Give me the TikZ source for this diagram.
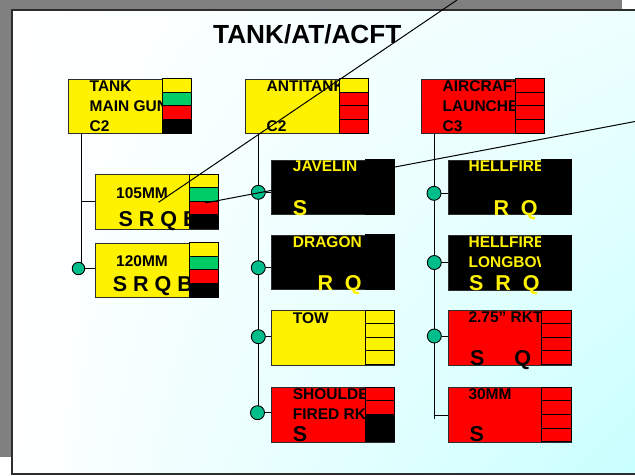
\documentclass[tikz,border=0pt]{standalone}
\usepackage{fontspec}
\setmainfont{Liberation Sans}
\usetikzlibrary{shadings}
\definecolor{stgreen}{RGB}{0,204,102}
\definecolor{dotgreen}{RGB}{0,190,140}
\definecolor{shadowgray}{RGB}{128,128,128}
\definecolor{boxline}{RGB}{45,45,45}
\definecolor{skytop}{RGB}{238,255,255}
\definecolor{skyright}{RGB}{200,255,255}
% four status cells on the right side of a box
\newcommand\statcol[5]{%
  \foreach \clr [count=\i from 0] in {#2,#3,#4,#5}
    \draw[cell, fill=\clr] ([xshift=-29.5pt, yshift=-\i*13.625pt]#1.north east) rectangle ++(29.5,13.625);
}
\begin{document}
\begin{tikzpicture}[x=1pt, y=-1pt,
    box/.style = {draw=boxline, line width=0.9pt, minimum width=123pt, minimum height=54.5pt, inner sep=0pt, anchor=north west},
    cell/.style = {draw=black, line width=0.9pt},
    lbl/.style = {font=\bfseries\fontsize{15.5}{20}\selectfont, align=left, inner sep=0pt, anchor=north west},
    srq/.style = {font=\bfseries\fontsize{21.5}{24}\selectfont, inner sep=0pt, anchor=base west},
    dot/.style = {circle, draw=black, line width=0.9pt, fill=dotgreen, minimum size=14pt, inner sep=0pt},
    wire/.style = {draw=black, line width=1pt}]
    \clip (0,0) rectangle (635,475);
    % slide
    \fill[shadowgray] (0,0) rectangle (622,457);
    \shade[upper left=white, upper right=skytop, lower left=white, lower right=skyright] (12,10) rectangle (645,474);
    \draw[boxline, line width=1.5pt] (12,10) rectangle (645,474);
    \node[font=\bfseries\fontsize{26.2}{30}\selectfont, inner sep=0pt, anchor=base west] (title) at (213,43.5) {TANK/AT/ACFT};
    % top row
    \node[box, fill=yellow] (tank) at (68,78.5) {};
    \node[box, fill=yellow] (antitank) at (245,78.5) {};
    \node[box, fill=red] (aircraft) at (421,78.5) {};
    \node[lbl] (tankT) at (89.5,80.6) {TANK\\MAIN GUN\\C2};
    \node[lbl] (antitankT) at (266.5,80.6) {ANTITANK\\~\\C2};
    \node[lbl] (aircraftT) at (442.5,80.6) {AIRCRAFT\\LAUNCHER\\C3};
    \statcol{tank}{yellow}{stgreen}{red}{black}
    \statcol{antitank}{yellow}{red}{red}{red}
    \statcol{aircraft}{red}{red}{red}{red}
    % tank main gun
    \node[box, fill=yellow] (mm105) at (95,174) {};
    \node[box, fill=yellow] (mm120) at (95,242.5) {};
    \node[lbl] (mm105T) at (116,187.2) {105MM};
    \node[lbl] (mm120T) at (116,255) {120MM};
    \node[srq] (mm105L) at (118.3,226) {S R Q B};
    \node[srq] (mm120L) at (112.7,291) {S R Q B};
    \statcol{mm105}{yellow}{stgreen}{red}{black}
    \statcol{mm120}{yellow}{stgreen}{red}{black}
    % antitank
    \node[box, fill=black] (jav) at (271,159.5) {};
    \node[box, fill=black] (drag) at (271,234.5) {};
    \node[box, fill=yellow] (tow) at (271,310) {};
    \node[box, fill=red] (sfr) at (271,387) {};
    \node[lbl, text=yellow] (javT) at (292.7,160.7) {JAVELIN};
    \node[lbl, text=yellow] (dragT) at (292.7,236) {DRAGON};
    \node[lbl] (towT) at (292.7,312.5) {TOW};
    \node[lbl] (sfrT) at (292.7,388) {SHOULDER\\FIRED RKT};
    \node[srq, text=yellow] (javL) at (292.7,215) {S};
    \node[srq, text=yellow] (dragL) at (317.3,290) {R~~Q};
    \node[srq] (sfrL) at (292.7,441.7) {S};
    \statcol{jav}{black}{black}{black}{black}
    \statcol{drag}{black}{black}{black}{black}
    \statcol{tow}{yellow}{yellow}{yellow}{yellow}
    \statcol{sfr}{red}{red}{black}{black}
    % aircraft
    \node[box, fill=black] (hell) at (447.5,159.5) {};
    \node[box, fill=black] (lbow) at (447.5,235) {};
    \node[box, fill=red] (rkt) at (447.5,310) {};
    \node[box, fill=red] (mm30) at (447.5,387.3) {};
    \node[lbl, text=yellow] (hellT) at (468.5,160.7) {HELLFIRE};
    \node[lbl, text=yellow] (lbowT) at (468.5,236.5) {HELLFIRE\\LONGBOW};
    \node[lbl] (rktT) at (468.3,311) {2.75” RKT};
    \node[lbl] (mm30T) at (468.3,388.3) {30MM};
    \node[srq, text=yellow] (hellL) at (493.3,215) {R~~Q};
    \node[srq, text=yellow] (lbowL) at (469,290.7) {S~~R~~Q};
    \node[srq] (rktL) at (470,365) {S~~~~~Q};
    \node[srq] (mm30L) at (469.3,441.7) {S};
    \statcol{hell}{black}{black}{black}{black}
    \statcol{lbow}{black}{black}{black}{black}
    \statcol{rkt}{red}{red}{red}{red}
    \statcol{mm30}{red}{red}{red}{red}
    % bars
    \coordinate (tankbar) at (81.5,268.5);
    \coordinate (atbar) at (258.3,413);
    \coordinate (airbar) at (434.3,419.3);
    \draw[wire] (tank.south -| tankbar) -- (tankbar);
    \draw[wire] (antitank.south -| atbar) -- (atbar);
    \draw[wire] (aircraft.south -| airbar) -- (airbar);
    \draw[wire] (mm105.west -| tankbar) -- (mm105.west);
    \draw[wire] (mm30.west -| airbar) -- (mm30.west);
    \node[dot, minimum size=12.5pt] (d120) at (78.5,268.5) {};
    \node[dot] (djav) at (258.3,192.3) {};
    \node[dot] (ddrag) at (258.3,267.7) {};
    \node[dot] (dtow) at (258.3,336.7) {};
    \node[dot] (dsfr) at (257.5,412.7) {};
    \node[dot] (dhell) at (434,193.3) {};
    \node[dot] (dlbow) at (434.3,262.5) {};
    \node[dot] (drkt) at (434.3,336) {};
    \draw[wire] (d120) -- (d120 -| mm120.west);
    \draw[wire] (djav) -- (djav -| jav.west);
    \draw[wire] (ddrag) -- (ddrag -| drag.west);
    \draw[wire] (dtow) -- (dtow -| tow.west);
    \draw[wire] (dsfr) -- (dsfr -| sfr.west);
    \draw[wire] (dhell) -- (dhell -| hell.west);
    \draw[wire] (dlbow) -- (dlbow -| lbow.west);
    \draw[wire] (drkt) -- (drkt -| rkt.west);
    % pointers
    \coordinate (ptrAtop) at (457,0);
    \coordinate (ptrAend) at (158.5,202.3);
    \coordinate (ptrBend) at (205,203);
    \coordinate (ptrBtop) at (635,121.5);
    \draw[wire] (ptrAtop) -- (ptrAend);
    \draw[wire] (ptrBend) -- (ptrBtop);
\end{tikzpicture}
\end{document}
